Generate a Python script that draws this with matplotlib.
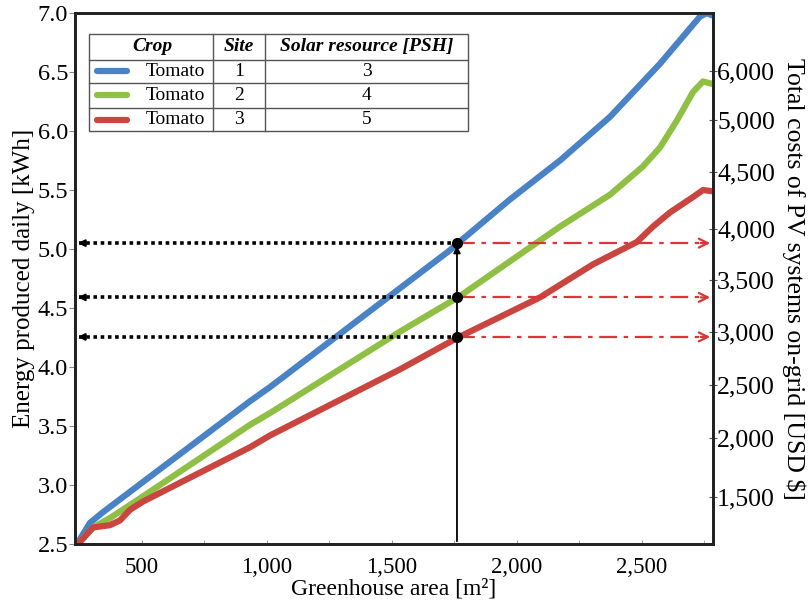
import numpy as np
import matplotlib
matplotlib.use('Agg')
import matplotlib.pyplot as plt
from matplotlib.lines import Line2D

plt.rcParams['font.family'] = ['Liberation Serif', 'DejaVu Serif']

# greenhouse area [m2] vs energy produced daily [kWh]
area_s1 = [240, 292, 344, 932, 1012, 1732, 1764, 1972, 2172, 2372, 2572, 2732, 2760, 2780]
energy_s1 = [2.50, 2.68, 2.77, 3.71, 3.83, 4.99, 5.05, 5.42, 5.75, 6.12, 6.57, 6.97, 7.00, 6.98]

area_s2 = [244, 304, 372, 480, 932, 1012, 1532, 1764, 2172, 2372, 2504, 2572, 2640, 2704, 2744, 2780]
energy_s2 = [2.50, 2.64, 2.72, 2.87, 3.51, 3.61, 4.30, 4.59, 5.19, 5.46, 5.70, 5.86, 6.09, 6.33, 6.42, 6.40]

area_s3 = [244, 304, 372, 412, 452, 504, 932, 1012, 1532, 1764, 2092, 2304, 2480, 2544, 2612, 2704, 2744, 2780]
energy_s3 = [2.50, 2.64, 2.66, 2.70, 2.79, 2.86, 3.32, 3.42, 3.98, 4.25, 4.59, 4.87, 5.06, 5.19, 5.31, 5.44, 5.50, 5.49]

crops = ['Tomato', 'Tomato', 'Tomato']
sites = ['1', '2', '3']
psh = ['3', '4', '5']
colors = ['#4a82c6', '#8fbf45', '#c9453f']

# reading at a greenhouse area of ~1760 m2
read_area = 1760
read_energy = [5.05, 4.59, 4.255]

# right axis labels, placed at energy levels as in the original
cost_pos = [6.508, 6.093, 5.655, 5.169, 4.737, 4.299, 3.847, 3.398, 2.898]
cost_labels = ['6,000', '5,000', '4,500', '4,000', '3,500', '3,000', '2,500', '2,000', '1,500']

x_ticks = [500, 1000, 1500, 2000, 2500]

fig = plt.figure(figsize=(8.09, 6.05), dpi=100)
ax = fig.add_axes([0.0927, 0.1008, 0.7886, 0.8777])

for xs, ys, c in zip([area_s1, area_s2, area_s3], [energy_s1, energy_s2, energy_s3], colors):
    ax.plot(xs, ys, color=c, lw=4.5, solid_capstyle='round', solid_joinstyle='round', zorder=3)

xmin, xmax = 232, 2784
ax.set_xlim(xmin, xmax)
ax.set_ylim(2.5, 7.0)

# vertical reading line with arrow
ax.annotate('', xy=(read_area, read_energy[0]), xytext=(read_area, 2.5),
            arrowprops=dict(arrowstyle='-|>', color='black', lw=1.3, mutation_scale=10), zorder=4)

for e in read_energy:
    ax.plot([xmin + 15, read_area], [e, e], color='black', lw=2.6, ls=(0, (1, 1)), zorder=4)
    ax.annotate('', xy=(xmin, e), xytext=(xmin + 40, e),
                arrowprops=dict(arrowstyle='-|>', color='black', lw=1.5, mutation_scale=10), zorder=4)
    ax.plot([read_area, xmax - 20], [e, e], color='#d8363a', lw=1.6, ls=(0, (8, 3, 2, 3)), zorder=4)
    ax.annotate('', xy=(xmax, e), xytext=(xmax - 60, e),
                arrowprops=dict(arrowstyle='->', color='#d8363a', lw=1.6, mutation_scale=16), zorder=4)
    ax.plot(read_area, e, 'o', color='black', ms=7, zorder=5)

ax.set_xticks(x_ticks)
ax.set_xticklabels(['{:,}'.format(v) for v in x_ticks])
ax.set_xticks(np.arange(250, 2784, 250), minor=True)
ax.set_yticks(np.arange(2.5, 7.01, 0.5))
ax.set_yticklabels(['{:.1f}'.format(v) for v in np.arange(2.5, 7.01, 0.5)])
ax.tick_params(axis='x', which='both', labelsize=16.5, length=3, direction='in', color='#999999', pad=9)
ax.tick_params(axis='y', labelsize=17.5, length=4, color='#888888', pad=1)
ax.set_xlabel('Greenhouse area [m²]', fontsize=17, va='top')
ax.xaxis.set_label_coords(0.5, -0.064)
ax.set_ylabel('Energy produced daily [kWh]', fontsize=18, labelpad=2)

ax2 = ax.twinx()
ax2.set_ylim(ax.get_ylim())
ax2.set_yticks(cost_pos)
ax2.set_yticklabels(cost_labels)
ax2.tick_params(axis='y', labelsize=18.5, length=6, direction='inout', color='#555555', pad=0)
ax2.set_ylabel('Total costs of PV systems on-grid [USD $]', fontsize=18.5, rotation=-90, labelpad=22)

for a in (ax, ax2):
    for s in a.spines.values():
        s.set_linewidth(2)
        s.set_color('#222222')

# legend table in axes fraction
tr = ax.transAxes
x0, x1 = 0.0219, 0.616
col_a, col_b = 0.2163, 0.2978
row_y = [0.9605, 0.9115, 0.8682, 0.8211, 0.7778]
box_kw = dict(transform=tr, color='#555555', lw=1.0, zorder=6)
ax.add_patch(plt.Rectangle((x0, row_y[-1]), x1 - x0, row_y[0] - row_y[-1], transform=tr,
                           facecolor='white', edgecolor='#555555', lw=1.0, zorder=5))
for yy in row_y[1:-1]:
    ax.add_line(Line2D([x0, x1], [yy, yy], **box_kw))
for xx in (col_a, col_b):
    ax.add_line(Line2D([xx, xx], [row_y[-1], row_y[0]], **box_kw))

head_y = (row_y[0] + row_y[1]) / 2
hkw = dict(transform=tr, fontsize=14, fontweight='bold', fontstyle='italic', ha='center', va='center', zorder=7)
ax.text(0.121, head_y, 'Crop', **hkw)
ax.text((col_a + col_b) / 2, head_y, 'Site', **hkw)
ax.text((col_b + x1) / 2, head_y, 'Solar resource [PSH]', **hkw)

for i in range(3):
    yc = (row_y[i + 1] + row_y[i + 2]) / 2
    ax.add_line(Line2D([0.034, 0.081], [yc, yc], transform=tr, color=colors[i], lw=4.5,
                       solid_capstyle='round', zorder=7))
    ax.text(0.157, yc, crops[i], transform=tr, fontsize=14, ha='center', va='center', zorder=7)
    ax.text((col_a + col_b) / 2, yc, sites[i], transform=tr, fontsize=14, ha='center', va='center', zorder=7)
    ax.text((col_b + x1) / 2, yc, psh[i], transform=tr, fontsize=14, ha='center', va='center', zorder=7)

fig.savefig('out.png', dpi=100)
